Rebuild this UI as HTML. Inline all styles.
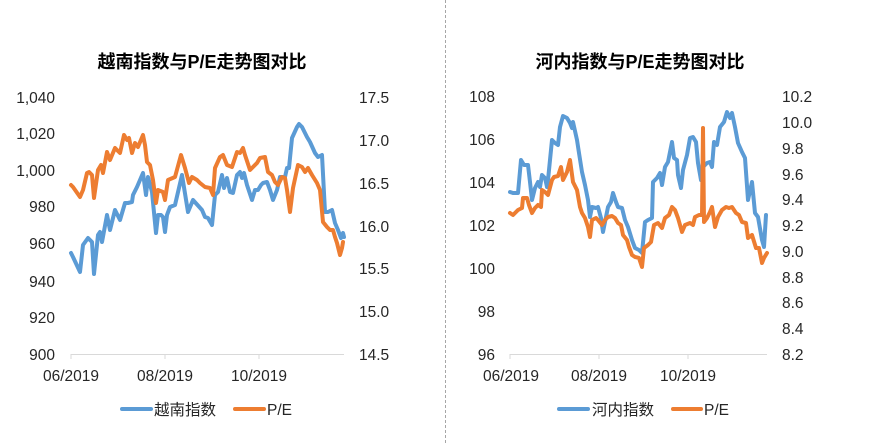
<!DOCTYPE html>
<html><head><meta charset="utf-8"><style>
html,body{margin:0;padding:0;background:#fff;}
svg{display:block;}
text{font-family:"Liberation Sans","Noto Sans CJK SC",sans-serif;fill:#262626;}
.t{font-size:18px;font-weight:bold;fill:#000;}
.a{font-size:15.5px;fill:#262626;}
.l{font-size:15.5px;fill:#262626;}
.s{fill:none;stroke-width:4;stroke-linejoin:round;stroke-linecap:round;}
</style></head><body>
<svg width="888" height="445" viewBox="0 0 888 445" xmlns="http://www.w3.org/2000/svg">
<rect width="888" height="445" fill="#fff"/>
<line x1="445.5" y1="0" x2="445.5" y2="445" stroke="#a6a6a6" stroke-width="1" stroke-dasharray="3,2"/>

<!-- LEFT CHART -->
<text class="t" x="202" y="68" text-anchor="middle">越南指数与P/E走势图对比</text>
<g class="a" text-anchor="end">
<text x="55" y="103">1,040</text>
<text x="55" y="139">1,020</text>
<text x="55" y="176">1,000</text>
<text x="55" y="212">980</text>
<text x="55" y="249">960</text>
<text x="55" y="287">940</text>
<text x="55" y="323">920</text>
<text x="55" y="360">900</text>
</g>
<g class="a" text-anchor="start">
<text x="359" y="103">17.5</text>
<text x="359" y="146">17.0</text>
<text x="359" y="189">16.5</text>
<text x="359" y="232">16.0</text>
<text x="359" y="274">15.5</text>
<text x="359" y="317">15.0</text>
<text x="359" y="360">14.5</text>
</g>
<line x1="71" y1="354.5" x2="344" y2="354.5" stroke="#d9d9d9" stroke-width="1"/>
<g stroke="#d9d9d9" stroke-width="1">
<line x1="71" y1="354" x2="71" y2="359"/>
<line x1="165" y1="354" x2="165" y2="359"/>
<line x1="259" y1="354" x2="259" y2="359"/>
</g>
<g class="a" text-anchor="middle">
<text x="71" y="381">06/2019</text>
<text x="165" y="381">08/2019</text>
<text x="259" y="381">10/2019</text>
</g>
<polyline class="s" stroke="#5B9BD5" points="71,253 73,257 80,272 83,245 88,238 92,242 94,274 98,235 100,232 102,242 107,215 110,230 115,210 120,220 125,203 128,203 132,202 133,195 137,187 140,180 143,173 146,195 148,177 152,192 156,233 158,215 161,215 163,217 165,232 167,215 170,207 175,205 182,175 188,212 193,200 202,210 205,217 208,218 212,225 215,195 218,192 222,175 224,188 227,178 230,192 233,193 237,175 240,172 242,178 244,173 247,185 252,200 255,190 258,190 261,185 263,183 267,182 270,190 273,200 277,190 280,177 285,177 287,168 289,168 292,138 297,127 299,124 302,127 307,137 310,142 315,153 318,157 322,155 325,212 328,212 332,210 335,223 338,230 341,238 343,233 344,237"/>
<polyline class="s" stroke="#ED7D31" points="71,185 73,187 80,197 83,190 87,173 89,172 92,175 94,198 98,170 101,165 103,173 107,152 110,160 115,148 120,153 124,135 127,140 129,138 132,153 135,143 138,147 143,135 145,145 147,162 150,165 153,180 156,203 158,190 163,192 165,200 168,180 175,177 181,155 185,168 189,183 192,177 197,180 200,183 205,187 210,188 213,195 215,168 220,157 223,155 227,165 232,167 237,152 240,153 243,148 245,155 250,170 253,167 257,163 260,158 265,157 268,172 272,175 275,182 278,185 282,177 285,178 287,190 290,212 293,188 298,165 302,167 305,172 308,168 312,175 317,183 320,190 323,222 327,227 330,230 333,230 335,237 337,243 340,255 342,248 343,242"/>
<line x1="122" y1="409" x2="151" y2="409" stroke="#5B9BD5" stroke-width="4" stroke-linecap="round"/>
<text class="l" x="154" y="415">越南指数</text>
<line x1="235" y1="409" x2="264" y2="409" stroke="#ED7D31" stroke-width="4" stroke-linecap="round"/>
<text class="l" x="267" y="415">P/E</text>

<!-- RIGHT CHART -->
<text class="t" x="640" y="68" text-anchor="middle">河内指数与P/E走势图对比</text>
<g class="a" text-anchor="end">
<text x="495" y="102">108</text>
<text x="495" y="145">106</text>
<text x="495" y="188">104</text>
<text x="495" y="231">102</text>
<text x="495" y="274">100</text>
<text x="495" y="317">98</text>
<text x="495" y="360">96</text>
</g>
<g class="a" text-anchor="start">
<text x="782" y="102">10.2</text>
<text x="782" y="128">10.0</text>
<text x="782" y="154">9.8</text>
<text x="782" y="180">9.6</text>
<text x="782" y="205">9.4</text>
<text x="782" y="231">9.2</text>
<text x="782" y="257">9.0</text>
<text x="782" y="283">8.8</text>
<text x="782" y="308">8.6</text>
<text x="782" y="334">8.4</text>
<text x="782" y="360">8.2</text>
</g>
<line x1="510" y1="354.5" x2="767" y2="354.5" stroke="#d9d9d9" stroke-width="1"/>
<g stroke="#d9d9d9" stroke-width="1">
<line x1="510" y1="354" x2="510" y2="359"/>
<line x1="599" y1="354" x2="599" y2="359"/>
<line x1="688" y1="354" x2="688" y2="359"/>
</g>
<g class="a" text-anchor="middle">
<text x="511" y="381">06/2019</text>
<text x="599" y="381">08/2019</text>
<text x="688" y="381">10/2019</text>
</g>
<polyline class="s" stroke="#5B9BD5" points="510,192 513,193 518,193 521,160 524,165 528,165 530,182 532,200 535,188 538,182 540,187 542,175 545,178 547,187 548,180 552,140 555,143 558,145 560,127 563,116 567,118 570,123 572,128 573,122 577,140 579,153 582,172 585,185 588,200 590,217 592,207 596,208 598,207 601,218 603,232 605,222 608,207 611,202 613,193 616,202 618,207 622,208 625,220 628,227 632,240 635,248 639,250 642,253 645,222 648,220 652,218 653,182 657,178 660,173 662,185 665,167 668,162 672,142 674,158 677,160 678,175 681,188 683,170 687,155 690,138 693,137 696,142 698,163 701,180 703,167 707,163 710,162 712,167 714,142 717,145 720,127 724,122 727,112 730,118 732,113 735,127 738,143 742,152 745,158 748,200 752,182 755,213 758,217 762,240 764,247 766,215"/>
<polyline class="s" stroke="#ED7D31" points="510,213 513,215 518,210 522,208 523,198 527,198 529,205 532,213 535,208 538,205 541,207 542,190 545,192 548,195 552,180 554,177 558,176 561,167 563,180 567,172 570,160 573,182 577,190 580,207 582,213 585,218 588,227 590,237 592,220 596,218 598,220 602,225 605,220 608,217 612,216 615,218 618,223 621,225 623,235 627,240 629,247 632,255 635,257 639,258 642,267 644,248 648,245 651,242 654,225 658,223 662,228 665,218 669,215 672,207 675,210 678,218 682,232 685,225 690,223 693,225 695,217 699,215 702,215 703,128 704,222 707,218 710,212 712,207 715,227 718,217 722,210 726,207 729,208 732,207 736,213 739,215 742,222 746,223 748,238 752,235 756,248 759,248 762,263 764,258 767,253"/>
<line x1="559" y1="409" x2="588" y2="409" stroke="#5B9BD5" stroke-width="4" stroke-linecap="round"/>
<text class="l" x="592" y="415">河内指数</text>
<line x1="673" y1="409" x2="701" y2="409" stroke="#ED7D31" stroke-width="4" stroke-linecap="round"/>
<text class="l" x="704" y="415">P/E</text>
</svg>
</body></html>
